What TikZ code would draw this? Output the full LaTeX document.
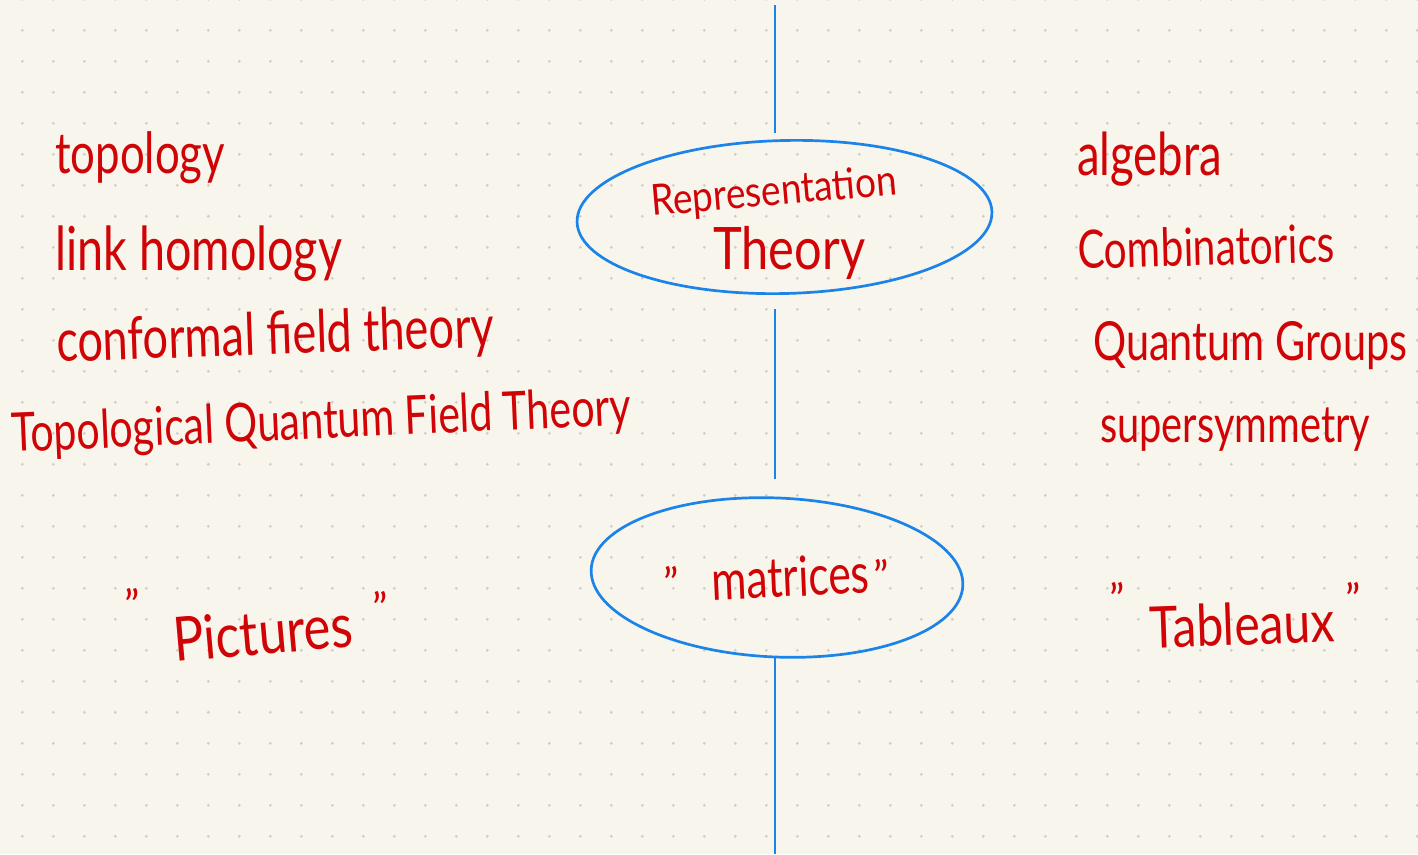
\documentclass[tikz,border=0pt]{standalone}
\usepackage{fontspec}
\setmainfont{Lato}
\usepackage{graphicx}
\usetikzlibrary{shapes.geometric}
\definecolor{paper}{RGB}{248,246,236}
\definecolor{dotc}{RGB}{208,206,200}
\definecolor{ink}{RGB}{208,4,6}
\definecolor{pen}{RGB}{28,132,232}
\newcommand{\hw}[3][1.3]{\resizebox{#2}{!}{\scalebox{1}[#1]{\fontsize{30}{36}\selectfont #3}}}
\begin{document}
\begin{tikzpicture}[x=1pt,y=-1pt,
  lab/.style={text=ink, inner sep=0pt, anchor=base west},
  qm/.style={text=ink, inner sep=0pt, font=\fontsize{42}{42}\selectfont},
  oval/.style={draw=pen, line width=2.7pt, ellipse, inner sep=0pt},
  wire/.style={draw=pen, line width=2.7pt}]
\useasboundingbox (0,0) rectangle (1418,854);
\fill[paper] (0,0) rectangle (1418,854);
\foreach \i in {0,...,45} \foreach \j in {0,...,27}
  \fill[dotc] ({22.3+31*\i},{-0.7+31*\j}) circle (1.6pt);

% ellipses
\node[oval, minimum width=415pt, minimum height=153pt, rotate=1.4] (rep) at (784.5,217) {};
\node[oval, minimum width=372pt, minimum height=159pt, rotate=-2.5] (mat) at (777,577.5) {};

% vertical line
\coordinate (ltop) at (775,5);
\coordinate (lbot) at (775,854);
\draw[wire, shorten >=6pt] (ltop) -- (ltop |- rep.north);
\draw[wire, shorten <=14pt, shorten >=18pt] (rep.south -| ltop) -- (mat.north -| ltop);
\draw[wire] (mat.south -| ltop) -- (lbot);

% centre texts
\node[lab, rotate=5] (rt1) at (652,216) {\hw[1.15]{247pt}{Representation}};
\node[lab] (rt2) at (713,269) {\hw[1.2]{152pt}{Theory}};
\node[lab, rotate=2.5] (mt) at (712,600) {\hw{158pt}{matrices}};
\node[qm] (mq1) at (671,582) {"};
\node[qm] (mq2) at (881,575) {"};

% left list
\node[lab] (l1) at (55,173) {\hw{170pt}{topology}};
\node[lab] (l2) at (55,270) {\hw{287pt}{link homology}};
\node[lab, rotate=2] (l3) at (57,362) {\hw{438pt}{conformal field theory}};
\node[lab, rotate=2.5] (l4) at (12,452) {\hw{620pt}{Topological Quantum Field Theory}};

% right list
\node[lab] (r1) at (1077,175) {\hw{145pt}{algebra}};
\node[lab, rotate=1.5] (r2) at (1078,269) {\hw{257pt}{Combinatorics}};
\node[lab] (r3) at (1093,360) {\hw{314pt}{Quantum Groups}};
\node[lab] (r4) at (1100,442) {\hw{270pt}{supersymmetry}};

% bottom labels
\node[lab, rotate=5] (pic) at (175,662) {\hw[1.2]{180pt}{Pictures}};
\node[qm] (pq1) at (132,604) {"};
\node[qm] (pq2) at (380,607) {"};
\node[lab, rotate=2] (tab) at (1150,648) {\hw[1.2]{185pt}{Tableaux}};
\node[qm] (tq1) at (1117,598) {"};
\node[qm] (tq2) at (1353,598) {"};
\end{tikzpicture}
\end{document}
